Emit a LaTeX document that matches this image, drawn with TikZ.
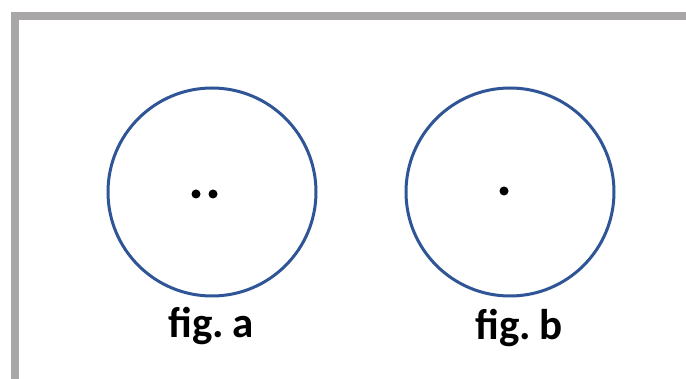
\documentclass[tikz,border=0pt]{standalone}
\usepackage{fontspec}
\setmainfont{Carlito}
\definecolor{ringblue}{RGB}{47,85,151}
\definecolor{framegray}{RGB}{168,166,166}
\begin{document}
\begin{tikzpicture}[x=1pt,y=-1pt,
  ring/.style={draw=ringblue,line width=3pt,circle,minimum size=208pt,inner sep=0pt},
  dotmark/.style={fill=black,circle,minimum size=9pt,inner sep=0pt},
  caption/.style={font=\bfseries\fontsize{43}{47}\selectfont,inner sep=0pt,anchor=base}]
\useasboundingbox (0,0) rectangle (686,379);
\fill[white] (0,0) rectangle (686,379);
\draw[framegray,line width=8pt] (15,379) -- (15,16) -- (686,16);
\node[ring] (ca) at (212,192) {};
\node[ring] (cb) at (510,192) {};
\node[dotmark] (da1) at (196,194) {};
\node[dotmark] (da2) at (213,194) {};
\node[dotmark] (db) at (504,191) {};
\node[caption] (la) at (211,338) {fig.\kern-2pt\ a};
\node[caption] (lb) at (519,340) {fig.\kern-2pt\ b};
\end{tikzpicture}
\end{document}
